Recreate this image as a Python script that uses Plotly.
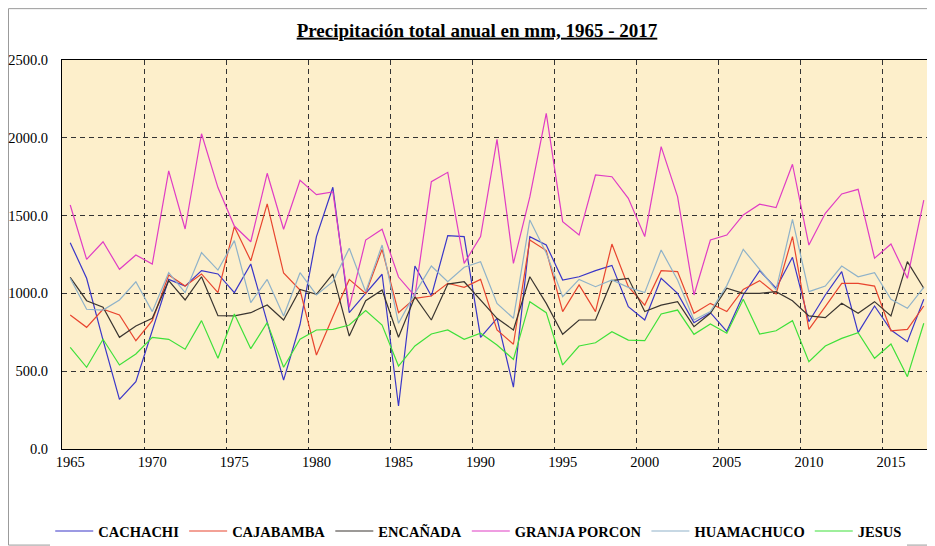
import plotly.graph_objects as go

years = list(range(1965, 2018))

cachachi = [1326, 1097, 700, 319, 433, 754, 1090, 1047, 1146, 1125,
            1005, 1189, 818, 443, 800, 1365, 1682, 876, 1000, 1123,
            276, 1176, 983, 1371, 1365, 718, 840, 397, 1365, 1311,
            1086, 1107, 1146, 1180, 915, 829, 1097, 1000, 812, 876,
            756, 990, 1146, 1033, 1232, 818, 990, 1140, 748, 919,
            765, 690, 962]
cajabamba = [861, 782, 898, 861, 696, 825, 1118, 1047, 1125, 1005,
             1429, 1210, 1575, 1131, 1022, 604, 850, 1090, 1000, 1283,
             876, 968, 983, 1065, 1039, 1090, 765, 673, 1343, 1275,
             883, 1054, 883, 1317, 1043, 925, 1146, 1140, 872, 936,
             883, 1026, 1082, 996, 1365, 769, 915, 1065, 1065, 1047,
             760, 769, 919]
encanada = [1103, 953, 911, 718, 790, 840, 1082, 958, 1107, 857,
            855, 876, 925, 829, 1026, 994, 1125, 726, 953, 1022,
            718, 979, 829, 1060, 1075, 958, 840, 765, 1107, 936,
            737, 829, 829, 1082, 1097, 883, 925, 947, 786, 872,
            1033, 1000, 1000, 1011, 953, 855, 844, 936, 872, 947,
            855, 1204, 1033]
granja_porcon = [1568, 1219, 1332, 1155, 1247, 1189, 1787, 1414, 2026, 1680,
                 1433, 1332, 1772, 1412, 1727, 1635, 1652, 910, 1343, 1412,
                 1105, 983, 1718, 1778, 1193, 1365, 1990, 1193, 1620, 2157,
                 1461, 1375, 1761, 1750, 1611, 1365, 1943, 1622, 990, 1343,
                 1375, 1504, 1573, 1551, 1830, 1311, 1515, 1639, 1669, 1226,
                 1317, 1097, 1600]
huamachuco = [1097, 898, 893, 958, 1075, 883, 1133, 1005, 1262, 1150,
              1339, 941, 1090, 855, 1133, 990, 1075, 1290, 1011, 1311,
              808, 1000, 1176, 1075, 1168, 1204, 936, 840, 1472, 1260,
              979, 1090, 1043, 1086, 1039, 1005, 1279, 1086, 829, 883,
              1050, 1283, 1155, 1022, 1476, 1011, 1047, 1176, 1107, 1133,
              962, 904, 1039]
jesus = [653, 525, 705, 540, 611, 718, 705, 641, 825, 583,
         868, 645, 812, 525, 705, 765, 769, 797, 889, 797,
         533, 662, 739, 765, 705, 744, 668, 576, 947, 876,
         540, 662, 683, 754, 700, 696, 868, 893, 737, 803,
         744, 962, 739, 760, 825, 561, 662, 711, 748, 583,
         675, 465, 808]

series = [
    ("CACHACHI", cachachi, "#3a36c8"),
    ("CAJABAMBA", cajabamba, "#e8452f"),
    ("ENCAÑADA", encanada, "#3a3530"),
    ("GRANJA PORCON", granja_porcon, "#e03cc4"),
    ("HUAMACHUCO", huamachuco, "#8fb2c9"),
    ("JESUS", jesus, "#3ee03a"),
]

label_years = list(range(1965, 2016, 5))
grid_years = [y + 0.5 for y in range(1969, 2015, 5)]

serif = "Liberation Serif, Times New Roman, serif"

fig = go.Figure()
for name, vals, color in series:
    fig.add_trace(go.Scatter(
        x=years, y=vals, name=name, mode="lines",
        line=dict(color=color, width=1.2),
    ))

# the page body has an 8px margin, so the figure is 8px smaller than the window
fig.update_layout(
    width=927, height=538,
    margin=dict(l=54, r=3, t=52, b=97, autoexpand=False),
    paper_bgcolor="white",
    plot_bgcolor="#fdefcb",
    title=dict(
        text="<b>Precipitación total anual en mm, 1965 - 2017</b>",
        x=0.477, xref="paper", xanchor="center",
        y=0.959, yref="container", yanchor="middle",
        font=dict(family=serif, size=19, color="black", lineposition="under"),
    ),
    font=dict(family=serif, size=14, color="black"),
    legend=dict(
        orientation="h", x=0.479, xanchor="center",
        y=-0.211, yanchor="middle",
        font=dict(family=serif, size=14.5, color="black", weight="bold"),
        itemwidth=38, tracegroupgap=0,
    ),
    xaxis=dict(
        range=[1964.5, 2017.5],
        tickvals=label_years,
        showgrid=False, zeroline=False, automargin=False,
        showline=True, linecolor="black", linewidth=1, mirror=True,
        ticks="", tickfont=dict(family=serif, size=14.5),
        minor=dict(tickvals=grid_years, showgrid=True, gridcolor="#333333",
                   griddash="5px,4px", gridwidth=1, ticks=""),
    ),
    yaxis=dict(
        range=[0, 2500], dtick=500, tickformat=".1f",
        showgrid=True, gridcolor="#333333", griddash="5px,4px", gridwidth=1,
        zeroline=False, automargin=False,
        showline=True, linecolor="black", linewidth=1, mirror=True,
        ticks="", ticklabelstandoff=10,
        tickfont=dict(family=serif, size=14.5),
    ),
    shapes=[dict(
        type="rect", xref="paper", yref="paper",
        x0=-0.0615, x1=1.0025, y0=-0.247, y1=1.132,
        line=dict(color="#9a9a9a", width=1),
        layer="below",
    )],
)

fig.write_html("out.html")
